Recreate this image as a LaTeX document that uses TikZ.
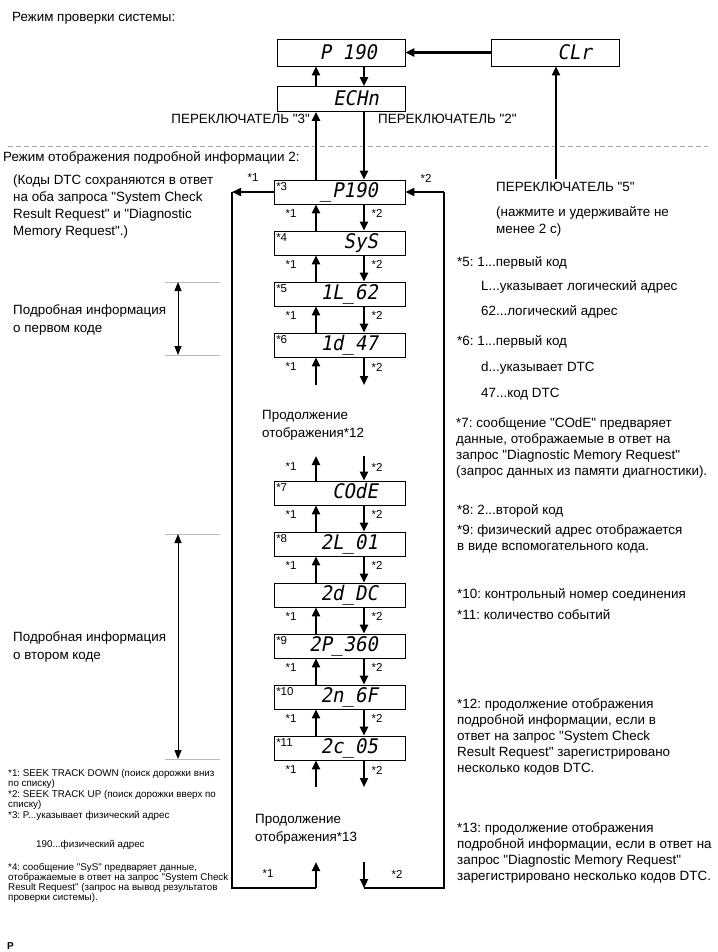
\documentclass[tikz,border=0pt]{standalone}
\usepackage{fontspec}
\usepackage{graphicx}
\setmainfont{Liberation Sans}[Ligatures=TeXOff]
\newfontfamily\segfont[FakeSlant=0.2]{DejaVu Sans Mono}
\usetikzlibrary{arrows.meta,calc}
\newcommand\seg[1]{\scalebox{1}[1.06]{#1}}
\frenchspacing
\tikzset{
 disp/.style={draw, line width=0.9pt, minimum width=131pt, minimum height=24pt, inner sep=0pt},
 segtxt/.style={anchor=base east, inner sep=0pt, font=\segfont\fontsize{19}{19}\selectfont},
 tag/.style={anchor=north west, inner sep=2.5pt, font=\fontsize{11.5}{11.5}\selectfont},
 arr/.style={line width=2.2pt, -{Triangle[length=9pt,width=8pt]}},
 loopline/.style={line width=2.6pt},
 lbl/.style={inner sep=0pt, font=\fontsize{11.5}{11.5}\selectfont},
 txt/.style={anchor=base west, inner sep=0pt, font=\fontsize{13.4}{13.4}\selectfont},
 small/.style={anchor=base west, inner sep=0pt, font=\fontsize{9.8}{9.8}\selectfont},
 brk/.style={draw=gray!55, line width=0.8pt},
 dbl/.style={line width=0.9pt, {Triangle[length=9pt,width=7pt]}-{Triangle[length=9pt,width=7pt]}},
}
\begin{document}
\begin{tikzpicture}[x=1pt,y=-1pt]
\useasboundingbox[fill=white] (0,0) rectangle (717,952);
\coordinate (U) at (316,0);
\coordinate (D) at (364,0);

% ---------- top: system check mode ----------
\node[txt] (title1) at (12,22) {Режим проверки системы:};
\node[disp, minimum width=128pt, minimum height=27pt] (p190) at (341,52.5) {};
\node[segtxt] (p190t) at (377,60) {\seg{P 190}};
\node[disp, minimum width=128pt, minimum height=27pt] (clr) at (555,52.5) {};
\node[segtxt] (clrt) at (592,60) {\seg{CLr}};
\node[disp, minimum width=128pt, minimum height=25pt] (echn) at (341,99) {};
\node[segtxt] (echnt) at (379,105.5) {\seg{ECHn}};
\draw[arr] (clr.west) -- (p190.east);
\draw[arr] (echn.north -| U) -- (p190.south -| U);
\draw[arr] (p190.south -| D) -- (echn.north -| D);
\node[txt, anchor=base east] (sw3) at (310,124) {ПЕРЕКЛЮЧАТЕЛЬ "3"};
\node[txt] (sw2) at (378,124) {ПЕРЕКЛЮЧАТЕЛЬ "2"};
\draw[gray!70, line width=0.8pt, dash pattern=on 5pt off 3pt] (8,146) -- (708,146);
\node[txt] (title2) at (3,162) {Режим отображения подробной информации 2:};

% ---------- display boxes ----------
\node[disp] (b3) at (339.5,192) {};
\node[segtxt] (b3t) at (378,197.5) {\seg{\_P190}};
\node[tag] (t3) at (b3.north west) {*3};
\node[disp] (b4) at (339.5,243) {};
\node[segtxt] (b4t) at (378,248.5) {\seg{SyS}};
\node[tag] (t4) at (b4.north west) {*4};
\node[disp] (b5) at (339.5,294) {};
\node[segtxt] (b5t) at (378,299.5) {\seg{1L\_62}};
\node[tag] (t5) at (b5.north west) {*5};
\node[disp] (b6) at (339.5,345) {};
\node[segtxt] (b6t) at (378,350.5) {\seg{1d\_47}};
\node[tag] (t6) at (b6.north west) {*6};
\node[disp] (b7) at (339.5,493) {};
\node[segtxt] (b7t) at (378,498.5) {\seg{COdE}};
\node[tag] (t7) at (b7.north west) {*7};
\node[disp] (b8) at (339.5,544) {};
\node[segtxt] (b8t) at (378,549.5) {\seg{2L\_01}};
\node[tag] (t8) at (b8.north west) {*8};
\node[disp] (b9) at (339.5,595) {};
\node[segtxt] (b9t) at (378,600.5) {\seg{2d\_DC}};
\node[disp] (b10) at (339.5,646) {};
\node[segtxt] (b10t) at (378,651.5) {\seg{2P\_360}};
\node[tag] (t10) at (b10.north west) {*9};
\node[disp] (b11) at (339.5,697) {};
\node[segtxt] (b11t) at (378,702.5) {\seg{2n\_6F}};
\node[tag] (t11) at (b11.north west) {*10};
\node[disp] (b12) at (339.5,748) {};
\node[segtxt] (b12t) at (378,753.5) {\seg{2c\_05}};
\node[tag] (t12) at (b12.north west) {*11};

% top connection into first box
\draw[arr] (b3.north -| U) -- (echn.south -| U);
\draw[arr] (echn.south -| D) -- (b3.north -| D);

% arrows between boxes
\foreach \a/\b in {b3/b4,b4/b5,b5/b6,b7/b8,b8/b9,b9/b10,b10/b11,b11/b12}{
  \draw[arr] (\b.north -| U) -- (\a.south -| U);
  \draw[arr] (\a.south -| D) -- (\b.north -| D);
  \node[lbl] (s1\a) at ($(\a.south -| 291,0)+(0,9)$) {*1};
  \node[lbl] (s2\a) at ($(\a.south -| 377,0)+(0,9)$) {*2};
}

% gap below b6
\coordinate (g6u) at (316,385);
\coordinate (g6d) at (364,385);
\draw[arr] (g6u) -- (b6.south -| U);
\draw[arr] (b6.south -| D) -- (g6d);
\node[lbl] (s1g6) at (291,367) {*1};
\node[lbl] (s2g6) at (377,367) {*2};
\node[txt] (cont12a) at (262,419) {Продолжение};
\node[txt] (cont12b) at (262,437) {отображения*12};

% gap above b7
\coordinate (g7u) at (316,456);
\coordinate (g7d) at (364,456);
\draw[arr] (b7.north -| U) -- (g7u);
\draw[arr] (g7d) -- (b7.north -| D);
\node[lbl] (s1g7) at (291,467) {*1};
\node[lbl] (s2g7) at (377,467) {*2};

% gap below b12
\coordinate (g12u) at (316,787);
\coordinate (g12d) at (364,787);
\draw[arr] (g12u) -- (b12.south -| U);
\draw[arr] (b12.south -| D) -- (g12d);
\node[lbl] (s1g12) at (291,770) {*1};
\node[lbl] (s2g12) at (377,770) {*2};
\node[txt] (cont13a) at (255,823) {Продолжение};
\node[txt] (cont13b) at (255,841) {отображения*13};

% outer loops
\coordinate (L1) at (232,192);
\coordinate (LB) at (232,888);
\coordinate (UB) at (316,888);
\coordinate (UT) at (316,862);
\coordinate (R1) at (444,192);
\coordinate (RB) at (444,888);
\coordinate (DB) at (364,888);
\coordinate (DT) at (364,862);
\draw[arr] (b3.west) -- (L1);
\draw[loopline] (L1) -- (LB) -- (UB);
\draw[arr] (UB) -- (UT);
\draw[arr] (DT) -- (DB);
\draw[loopline] (DB) -- (RB) -- (R1);
\draw[arr] (R1) -- (b3.east);
\node[lbl] (top1) at (253,178) {*1};
\node[lbl] (top2) at (426,178) {*2};
\node[lbl] (bot1) at (268,874) {*1};
\node[lbl] (bot2) at (397,874) {*2};

% switch 5 to CLr
\coordinate (S5) at (556,179);
\draw[arr] (S5) -- (clr.south -| S5);
\node[txt] (sw5) at (496,191) {ПЕРЕКЛЮЧАТЕЛЬ "5"};
\node[txt] (sw5a) at (496,216) {(нажмите и удерживайте не};
\node[txt] (sw5b) at (496,233) {менее 2 с)};

% left notes
\node[txt] (n0a) at (13,184) {(Коды DTC сохраняются в ответ};
\node[txt] (n0b) at (13,201) {на оба запроса "System Check};
\node[txt] (n0c) at (13,218) {Result Request" и "Diagnostic};
\node[txt] (n0d) at (13,235) {Memory Request".)};

% bracket 1
\coordinate (k1a) at (165,282);
\coordinate (k1b) at (220,282);
\coordinate (k1c) at (165,355);
\coordinate (k1d) at (220,355);
\draw[brk] (k1a) -- (k1b);
\draw[brk] (k1c) -- (k1d);
\draw[dbl] (k1a -| 178,0) -- (k1c -| 178,0);
\node[txt] (f1a) at (13,314) {Подробная информация};
\node[txt] (f1b) at (13,332) {о первом коде};

% bracket 2
\coordinate (k2a) at (165,534);
\coordinate (k2b) at (220,534);
\coordinate (k2c) at (165,759);
\coordinate (k2d) at (220,759);
\draw[brk] (k2a) -- (k2b);
\draw[brk] (k2c) -- (k2d);
\draw[dbl] (k2a -| 178,0) -- (k2c -| 178,0);
\node[txt] (f2a) at (13,641) {Подробная информация};
\node[txt] (f2b) at (13,659) {о втором коде};

% small notes
\node[small] (m1) at (8,776) {*1: SEEK TRACK DOWN (поиск дорожки вниз};
\node[small] (m2) at (8,786) {по списку)};
\node[small] (m3) at (8,797) {*2: SEEK TRACK UP (поиск дорожки вверх по};
\node[small] (m4) at (8,807) {списку)};
\node[small] (m5) at (8,818) {*3: P...указывает физический адрес};
\node[small] (m6) at (36,847) {190...физический адрес};
\node[small] (m7) at (8,870) {*4: сообщение "SyS" предваряет данные,};
\node[small] (m8) at (8,880) {отображаемые в ответ на запрос "System Check};
\node[small] (m9) at (8,890) {Result Request" (запрос на вывод результатов};
\node[small] (m10) at (8,900) {проверки системы).};
\node[txt, font=\bfseries\fontsize{10}{10}\selectfont] (pp) at (7,949) {P};

% right notes
\node[txt] (r1) at (457,266) {*5: 1...первый код};
\node[txt] (r2) at (481,290) {L...указывает логический адрес};
\node[txt] (r3) at (481,315) {62...логический адрес};
\node[txt] (r4) at (457,345) {*6: 1...первый код};
\node[txt] (r5) at (481,371) {d...указывает DTC};
\node[txt] (r6) at (481,397) {47...код DTC};
\node[txt] (r7) at (456,427) {*7: сообщение "COdE" предваряет};
\node[txt] (r8) at (456,443) {данные, отображаемые в ответ на};
\node[txt] (r9) at (456,459) {запрос "Diagnostic Memory Request"};
\node[txt] (r10) at (456,475) {(запрос данных из памяти диагностики).};
\node[txt] (r11) at (457,514) {*8: 2...второй код};
\node[txt] (r12) at (457,534) {*9: физический адрес отображается};
\node[txt] (r13) at (457,550) {в виде вспомогательного кода.};
\node[txt] (r14) at (457,598) {*10: контрольный номер соединения};
\node[txt] (r15) at (457,619) {*11: количество событий};
\node[txt] (r16) at (457,708) {*12: продолжение отображения};
\node[txt] (r17) at (457,724) {подробной информации, если в};
\node[txt] (r18) at (457,740) {ответ на запрос "System Check};
\node[txt] (r19) at (457,756) {Result Request" зарегистрировано};
\node[txt] (r20) at (457,772) {несколько кодов DTC.};
\node[txt] (r21) at (457,832) {*13: продолжение отображения};
\node[txt] (r22) at (457,848) {подробной информации, если в ответ на};
\node[txt] (r23) at (457,864) {запрос "Diagnostic Memory Request"};
\node[txt] (r24) at (457,880) {зарегистрировано несколько кодов DTC.};
\end{tikzpicture}
\end{document}
